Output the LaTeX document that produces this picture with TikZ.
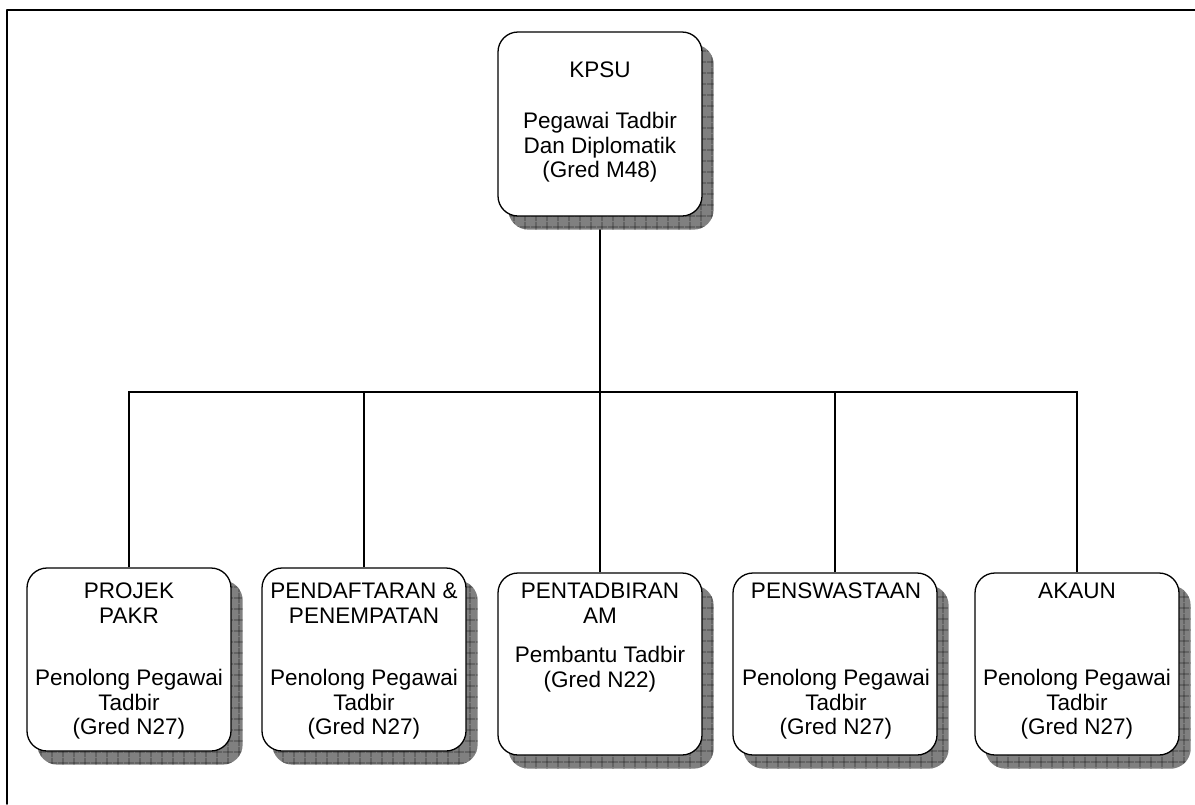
\documentclass[tikz,border=0pt]{standalone}
\usepackage{fontspec}
\setmainfont{Liberation Sans}
\usetikzlibrary{backgrounds,patterns.meta}
\tikzset{
	unit/.style={draw, line width=1.3pt, fill=white, rounded corners=20pt, minimum width=204pt, inner sep=0pt},
	txt/.style={anchor=north, align=center, inner sep=0pt},
	link/.style={line width=1.2pt},
	shade/.style={fill=black!50, rounded corners=20pt, postaction={pattern={Hatch[distance=10.5pt, angle=0, line width=0.9pt]}, pattern color=black!80}},
}
\newcommand\boxshadow[1]{\fill[shade] ([shift={(11pt,-13pt)}]#1.south west) rectangle ([shift={(11pt,-13pt)}]#1.north east);}
\begin{document}
\begin{tikzpicture}[x=1pt, y=-1pt, font=\fontsize{22.5}{24.5}\selectfont, line join=round, line cap=round]
	\useasboundingbox (0,0) rectangle (1195,804);
	\draw[line width=1.5pt] (1195,10) -- (7,10) -- (7,804);
	\node[unit, minimum height=184pt] (kpsu) at (600,124) {};
	\node[unit, minimum height=183pt] (pakr) at (129,659.5) {};
	\node[unit, minimum height=183pt] (daftar) at (364,659.5) {};
	\node[unit, minimum height=182pt] (tadbir) at (600,664) {};
	\node[unit, minimum height=182pt] (swasta) at (835,664) {};
	\node[unit, minimum height=182pt] (akaun) at (1077,664) {};
	\coordinate (hub) at (600,392);
	\begin{scope}[on background layer]
		\draw[link] (kpsu) -- (hub);
		\foreach \b in {pakr,daftar,tadbir,swasta,akaun}
			{\draw[link] (\b.north) |- (hub);}
		\foreach \b in {kpsu,pakr,daftar,tadbir,swasta,akaun}
			{\boxshadow{\b}}
	\end{scope}
	\node[txt] (kpsu-t) at (600,62) {KPSU\\[26.5pt]Pegawai Tadbir\\Dan Diplomatik\\(Gred M48)};
	\node[txt] (pakr-t) at (129,583) {PROJEK\\PAKR\\[38pt]Penolong Pegawai\\Tadbir\\(Gred N27)};
	\node[txt] (daftar-t) at (364,583) {PENDAFTARAN \&\\PENEMPATAN\\[38pt]Penolong Pegawai\\Tadbir\\(Gred N27)};
	\node[txt] (tadbir-t) at (600,583) {PENTADBIRAN\\AM\\[15pt]Pembantu Tadbir\\(Gred N22)};
	\node[txt] (swasta-t) at (836,583) {PENSWASTAAN\\[62.5pt]Penolong Pegawai\\Tadbir\\(Gred N27)};
	\node[txt] (akaun-t) at (1077,583) {AKAUN\\[62.5pt]Penolong Pegawai\\Tadbir\\(Gred N27)};
\end{tikzpicture}
\end{document}
